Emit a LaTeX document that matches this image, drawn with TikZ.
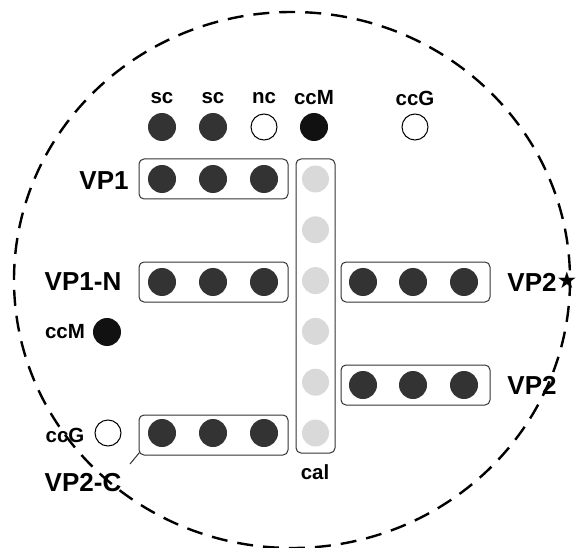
\documentclass[tikz,border=0pt]{standalone}
\usepackage{fontspec}
\setmainfont{Liberation Sans}
\newfontfamily\symfont{DejaVu Sans}
\definecolor{dotdark}{HTML}{333333}
\definecolor{dotblack}{HTML}{111111}
\definecolor{dotgray}{HTML}{D9D9D9}
\definecolor{boxline}{HTML}{333333}
\begin{document}
\begin{tikzpicture}[x=1pt,y=-1pt,
  dk/.style={circle,inner sep=0pt,minimum size=28pt,fill=dotdark},
  bk/.style={circle,inner sep=0pt,minimum size=28pt,fill=dotblack},
  gy/.style={circle,inner sep=0pt,minimum size=27pt,fill=dotgray},
  op/.style={circle,inner sep=0pt,minimum size=26pt,draw=black,line width=1pt,fill=white},
  grp/.style={draw=boxline,line width=1pt,rounded corners=5pt,inner sep=0pt},
  small/.style={font=\bfseries\fontsize{20.5}{22}\selectfont,inner sep=0pt},
  big/.style={font=\bfseries\fontsize{26}{28}\selectfont,inner sep=0pt}]
\useasboundingbox (0,0) rectangle (578,548);
% outer dashed boundary
\draw[line width=2.4pt,dash pattern=on 16pt off 10pt] (292,280) ellipse [x radius=278, y radius=268];
% boxes
\node[grp,minimum width=149pt,minimum height=40pt] (bVP1) at (213.5,179) {};
\node[grp,minimum width=149pt,minimum height=40pt] (bVP1N) at (213.5,282) {};
\node[grp,minimum width=149pt,minimum height=40pt] (bVP2C) at (213.5,435) {};
\node[grp,minimum width=149pt,minimum height=40pt] (bVP2s) at (415.5,282) {};
\node[grp,minimum width=149pt,minimum height=40pt] (bVP2) at (415.5,385) {};
\node[grp,minimum width=39pt,minimum height=294pt] (bcal) at (315.5,306) {};
% top row
\node[small] (lsc1) at (162,98) {sc};
\node[small] (lsc2) at (213,98) {sc};
\node[small] (lnc) at (264,98) {nc};
\node[small] (lccM) at (314,98) {ccM};
\node[small] (lccG) at (415,98) {ccG};
\node[dk] (tsc1) at (162,127) {};
\node[dk] (tsc2) at (213,127) {};
\node[op] (tnc) at (264,127) {};
\node[bk] (tccM) at (314,127) {};
\node[op] (tccG) at (415,127) {};
% VP1
\node[dk] (a1) at (162,179) {};
\node[dk] (a2) at (213,179) {};
\node[dk] (a3) at (264,179) {};
\node[big] (lVP1) at (104,181) {VP1};
% VP1-N
\node[dk] (n1) at (162,282) {};
\node[dk] (n2) at (213,282) {};
\node[dk] (n3) at (264,282) {};
\node[big] (lVP1N) at (83,282) {VP1-N};
% left ccM
\node[small] (lccM2) at (65,332) {ccM};
\node[bk] (ccM2) at (107,332) {};
% VP2-C
\node[dk] (c1) at (162,433) {};
\node[dk] (c2) at (213,433) {};
\node[dk] (c3) at (264,433) {};
\node[small] (lccG2) at (65,435) {ccG};
\node[op] (ccG2) at (108,433) {};
\node[big] (lVP2C) at (83,483) {VP2-C};
\coordinate (cnr) at (130,464);
\draw[line width=1pt,boxline] (bVP2C.south west) ++(1,-3) -- (cnr);
% cal
\foreach \i/\yy in {1/179,2/229.8,3/280.6,4/331.4,5/382.2,6/433}
  \node[gy] (g\i) at (315.5,\yy) {};
\node[small] (lcal) at (315,472) {cal};
% right VP2*
\node[dk] (r1) at (363,282) {};
\node[dk] (r2) at (413,282) {};
\node[dk] (r3) at (464,282) {};
\node[big] (lVP2s) at (532,282) {VP2};
\node[inner sep=0pt,font=\symfont\fontsize{23}{24}\selectfont] (star) at (567,280) {★};
% right VP2
\node[dk] (s1) at (363,385) {};
\node[dk] (s2) at (413,385) {};
\node[dk] (s3) at (464,385) {};
\node[big] (lVP2) at (532,385) {VP2};
\end{tikzpicture}
\end{document}
